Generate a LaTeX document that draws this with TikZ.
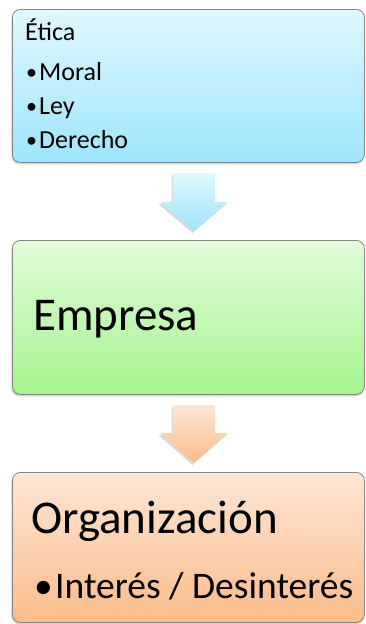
\documentclass[tikz,border=0pt]{standalone}
\usepackage{fontspec}
\setmainfont{Carlito}
\usetikzlibrary{shadows}
\definecolor{blueT}{HTML}{E0F8FE}
\definecolor{blueB}{HTML}{9EE5FB}
\definecolor{greenT}{HTML}{E2FBDA}
\definecolor{greenB}{HTML}{A4F58E}
\definecolor{orT}{HTML}{FDE6D6}
\definecolor{orB}{HTML}{FBBC8A}
\definecolor{edgegray}{HTML}{858585}
\begin{document}
\begin{tikzpicture}[x=1pt,y=-1pt,
  panel/.style={draw=edgegray, line width=0.8pt, rounded corners=8pt, anchor=north west, inner sep=0pt,
    drop shadow={shadow xshift=-1pt, shadow yshift=-2pt, opacity=0.35}},
  blockarrow/.style={drop shadow={shadow xshift=-1.5pt, shadow yshift=-2pt, opacity=0.3}},
  txt/.style={anchor=base west, inner sep=0pt, text=black},
  item/.style={txt, font=\fontsize{26}{30}\selectfont},
  dot/.style={txt, font=\fontsize{22}{26}\selectfont},
  big/.style={txt, font=\fontsize{47}{54}\selectfont},
  mid/.style={txt, font=\fontsize{37.5}{44}\selectfont}]
\useasboundingbox (0,0) rectangle (366,624);
% boxes
\node[panel, top color=blueT, bottom color=blueB, minimum width=352pt, minimum height=153pt] (etica) at (12,9) {};
\node[panel, top color=greenT, bottom color=greenB, minimum width=352pt, minimum height=154pt] (empresa) at (12,240) {};
\node[panel, top color=orT, bottom color=orB, minimum width=352pt, minimum height=150pt] (org) at (12,472) {};
% block arrows
\path[blockarrow, top color=blueT, bottom color=blueB]
  (173,173) -- (215,173) -- (215,202) -- (228,202) -- (194,231) -- (160,202) -- (173,202) -- cycle;
\path[blockarrow, top color=orT, bottom color=orB]
  (173,405) -- (215,405) -- (215,433) -- (228,433) -- (194,463) -- (160,433) -- (173,433) -- cycle;
% texts
\node[item] (t1) at (25,40) {Ética};
\node[dot] (b2) at (26,79) {•};
\node[item] (t2) at (39,80) {Moral};
\node[dot] (b3) at (26,113) {•};
\node[item] (t3) at (39,114) {Ley};
\node[dot] (b4) at (26,147) {•};
\node[item] (t4) at (39,148) {Derecho};
\node[big] (t5) at (33,330) {Empresa};
\node[big] (t6) at (31,533) {Organización};
\node[mid] (b7) at (34,598) {•};
\node[mid] (t7) at (55,598) {Interés / Desinterés};
\end{tikzpicture}
\end{document}
